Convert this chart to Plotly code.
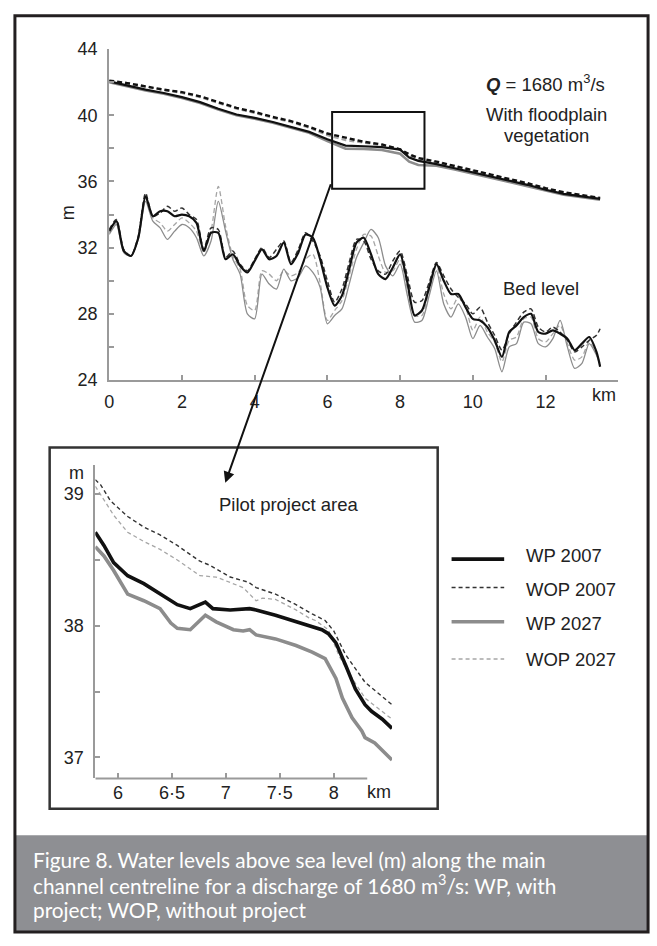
import plotly.graph_objects as go

W, H = 657, 946


def px(x):
    return x / W


def py(y):
    return 1 - y / H


# ---------------- main chart: water levels (m) ----------------
water_km = [0, 0.5, 1, 1.5, 2, 2.5, 3, 3.5, 4, 4.5, 5, 5.5, 6, 6.5, 7, 7.5, 8, 8.25, 8.5,
            9, 9.5, 10, 10.5, 11, 11.5, 12, 12.5, 13, 13.5]
water_wp2007 = [42.05, 41.8, 41.55, 41.35, 41.1, 40.8, 40.4, 40.05, 39.85, 39.6, 39.3, 39.0, 38.55,
                38.17, 38.13, 38.08, 37.93, 37.45, 37.25, 37.05, 36.8, 36.55, 36.3, 36.05, 35.8,
                35.5, 35.25, 35.1, 34.95]
water_wop2007 = [42.1, 41.95, 41.75, 41.55, 41.4, 41.15, 40.8, 40.45, 40.2, 39.9, 39.65, 39.3, 38.9,
                 38.63, 38.4, 38.24, 37.94, 37.65, 37.42, 37.2, 36.95, 36.7, 36.42, 36.15, 35.9,
                 35.6, 35.35, 35.18, 35.0]
water_wp2027 = [42.0, 41.75, 41.5, 41.3, 41.05, 40.75, 40.35, 40.0, 39.8, 39.55, 39.25, 38.95, 38.45,
                37.98, 37.97, 37.9, 37.68, 37.2, 37.0, 36.95, 36.72, 36.48, 36.22, 35.98, 35.72,
                35.45, 35.2, 35.05, 34.9]
water_wop2027 = [42.08, 41.9, 41.7, 41.5, 41.35, 41.1, 40.75, 40.4, 40.15, 39.85, 39.6, 39.25, 38.8,
                 38.5, 38.35, 38.2, 37.95, 37.55, 37.32, 37.15, 36.9, 36.65, 36.38, 36.1, 35.85,
                 35.55, 35.3, 35.15, 34.98]

# ---------------- main chart: bed levels (m) ----------------
bed_km = [0.0, 0.2, 0.4, 0.6, 0.8, 1.0, 1.2, 1.4, 1.6, 1.8, 2.0, 2.2, 2.4, 2.6, 2.8, 3.0, 3.2, 3.4,
          3.6, 3.8, 4.0, 4.2, 4.4, 4.6, 4.8, 5.0, 5.2, 5.4, 5.6, 5.8, 6.0, 6.2, 6.4, 6.6, 6.8, 7.0,
          7.2, 7.4, 7.6, 7.8, 8.0, 8.2, 8.4, 8.6, 8.8, 9.0, 9.2, 9.4, 9.6, 9.8, 10.0, 10.2, 10.4,
          10.6, 10.8, 11.0, 11.2, 11.4, 11.6, 11.8, 12.0, 12.2, 12.4, 12.6, 12.8, 13.0, 13.2, 13.4,
          13.5]
bed_wp2007 = [33.0, 33.6, 31.8, 31.5, 32.6, 35.1, 33.9, 34.2, 34.2, 33.9, 34.0, 33.9, 33.5, 31.8,
              32.9, 32.9, 31.3, 31.6, 30.9, 30.5, 31.2, 31.9, 31.3, 31.5, 32.3, 31.0, 31.7, 32.8,
              32.6, 31.3, 29.6, 28.5, 29.1, 30.7, 32.3, 32.6, 31.6, 30.4, 30.1, 30.8, 31.6, 29.9,
              27.9, 28.2, 29.6, 31.0, 30.0, 29.2, 29.2, 28.4, 27.7, 27.6, 27.2, 26.4, 25.4, 26.9,
              27.3, 27.8, 28.0, 26.9, 26.8, 27.0, 26.8, 26.5, 25.8, 26.2, 26.6, 25.7, 24.8]
bed_wop2007 = [33.1, 33.7, 31.9, 31.5, 32.7, 35.3, 33.9, 34.1, 34.5, 34.2, 34.4, 34.0, 33.7, 31.9,
               33.2, 33.1, 31.4, 31.8, 31.0, 30.6, 31.3, 32.0, 31.4, 31.9, 32.4, 31.1, 31.9, 32.9,
               32.4, 31.5, 30.0, 28.7, 29.5, 31.1, 32.5, 32.4, 31.3, 30.6, 30.4, 31.2, 31.8, 30.3,
               28.7, 28.8, 29.9, 31.1, 30.3, 29.5, 29.0, 28.6, 28.0, 28.4, 27.5, 26.7, 25.8, 26.8,
               27.5, 28.1, 28.3, 27.2, 26.9, 27.2, 26.9, 26.4, 25.7, 26.0, 26.4, 26.7, 27.1]
bed_wp2027 = [32.8, 33.4, 31.7, 31.5, 32.5, 34.8, 33.6, 33.2, 32.5, 33.0, 33.4, 33.2, 32.6, 31.5,
              32.4, 34.8, 33.0, 31.3, 30.4, 28.0, 27.7, 30.4, 29.8, 29.5, 30.7, 30.0, 30.2, 30.9,
              30.5, 29.6, 27.4, 27.9, 28.3, 29.8, 31.4, 32.3, 33.1, 32.6, 30.9, 30.3, 31.0, 29.1,
              27.5, 27.6, 29.1, 30.6, 28.6, 27.8, 28.6, 27.8, 26.5, 27.3, 26.6, 25.9, 24.5, 26.0,
              26.2, 27.5, 27.4, 26.2, 26.0, 26.5, 27.6, 26.0, 24.7, 25.0, 26.2, 25.5, 24.9]
bed_wop2027 = [32.9, 33.5, 31.8, 31.5, 32.6, 35.0, 33.8, 33.5, 33.0, 33.4, 33.8, 33.5, 33.0, 31.7,
               33.0, 35.7, 33.3, 31.5, 30.7, 28.5, 28.2, 30.6, 30.4, 30.0, 30.6, 30.3, 30.5, 31.3,
               31.6, 29.9, 27.6, 28.2, 28.8, 30.3, 31.9, 32.8, 32.7, 31.5, 30.5, 30.6, 31.3, 29.5,
               27.9, 27.9, 29.4, 30.9, 29.2, 28.3, 29.0, 28.4, 27.0, 27.8, 26.9, 26.3, 25.1, 26.4,
               26.6, 27.7, 27.8, 26.5, 26.3, 26.8, 27.3, 26.2, 25.2, 25.4, 26.3, 25.6, 25.0]

main_xtick_vals = [0, 2, 4, 6, 8, 10, 12]
main_xtick_text = ["0", "2", "4", "6", "8", "10", "12"]
main_ytick_vals = [24, 28, 32, 36, 40, 44]
main_ytick_text = ["24", "28", "32", "36", "40", "44"]

# zoom window (pilot project area) on the main chart
zoom_km = [6.13, 8.67]
zoom_m = [35.56, 40.2]

# ---------------- inset: pilot project area ----------------
in_wp2007_km = [5.79, 5.87, 5.96, 6.09, 6.24, 6.39, 6.55, 6.67, 6.76, 6.81, 6.88, 7.04, 7.22, 7.28,
                7.46, 7.65, 7.8, 7.89, 7.95, 8.02, 8.11, 8.2, 8.29, 8.35, 8.45, 8.54]
in_wp2007 = [38.71, 38.61, 38.48, 38.38, 38.32, 38.24, 38.16, 38.13, 38.16, 38.18, 38.13, 38.12,
             38.13, 38.12, 38.08, 38.03, 37.99, 37.97, 37.94, 37.87, 37.7, 37.52, 37.4, 37.35,
             37.29, 37.22]
in_wop2007_km = [5.79, 5.84, 5.93, 6.09, 6.24, 6.39, 6.55, 6.76, 6.85, 7.04, 7.21, 7.28, 7.46, 7.65,
                 7.8, 7.92, 8.0, 8.11, 8.29, 8.54]
in_wop2007 = [39.11, 39.07, 38.95, 38.83, 38.75, 38.69, 38.61, 38.49, 38.46, 38.37, 38.33, 38.29,
              38.24, 38.16, 38.09, 38.04, 37.96, 37.78, 37.57, 37.4]
in_wp2027_km = [5.79, 5.87, 5.96, 6.09, 6.24, 6.39, 6.49, 6.55, 6.67, 6.73, 6.81, 6.91, 7.07, 7.16,
                7.22, 7.28, 7.46, 7.65, 7.8, 7.92, 8.02, 8.08, 8.17, 8.26, 8.29, 8.38, 8.54]
in_wp2027 = [38.6, 38.53, 38.42, 38.24, 38.19, 38.13, 38.02, 37.98, 37.97, 38.02, 38.08, 38.03,
             37.97, 37.96, 37.97, 37.93, 37.9, 37.85, 37.8, 37.75, 37.6, 37.45, 37.3, 37.2, 37.15,
             37.11, 36.98]
in_wop2027_km = [5.79, 5.87, 5.96, 6.09, 6.24, 6.39, 6.55, 6.76, 6.91, 7.16, 7.28, 7.34, 7.46, 7.65,
                 7.77, 7.83, 7.95, 8.05, 8.17, 8.29, 8.54]
in_wop2027 = [39.06, 38.96, 38.84, 38.71, 38.64, 38.58, 38.5, 38.38, 38.37, 38.29, 38.19, 38.21,
              38.2, 38.12, 38.06, 38.04, 37.97, 37.77, 37.6, 37.45, 37.29]

inset_xtick_vals = [6, 6.5, 7, 7.5, 8]
inset_xtick_text = ["6", "6·5", "7", "7·5", "8"]
inset_ytick_vals = [37, 38, 39]
inset_ytick_text = ["37", "38", "39"]

series_names = ["WP 2007", "WOP 2007", "WP 2027", "WOP 2027"]

caption_lines = [
    "Figure 8. Water levels above sea level (m) along the main",
    "channel centreline for a discharge of 1680 m<sup>3</sup>/s: WP, with",
    "project; WOP, without project",
]

# ---------------- styles ----------------
FONT = "Liberation Sans, Arial, sans-serif"
FS = 18
TXT = "#222222"
AXC = "#9a9a9a"
BLACK = "#111111"
GREY = "#8c8c8c"
LGREY = "#a6a6a6"

inset_styles = [
    dict(color=BLACK, width=3.6),
    dict(color="#333333", width=1.4, dash="4px,3px"),
    dict(color=GREY, width=3.6),
    dict(color=LGREY, width=1.3, dash="4px,3px"),
]

fig = go.Figure()

# main water levels (grey first, black on top)
fig.add_trace(go.Scatter(x=water_km, y=water_wop2027, mode="lines", name="WOP 2027",
                         line=dict(color=LGREY, width=2.2, dash="5px,3px"), showlegend=False))
fig.add_trace(go.Scatter(x=water_km, y=water_wp2027, mode="lines", name="WP 2027",
                         line=dict(color=GREY, width=2.6), showlegend=False))
fig.add_trace(go.Scatter(x=water_km, y=water_wp2007, mode="lines", name="WP 2007",
                         line=dict(color=BLACK, width=2.2), showlegend=False))
fig.add_trace(go.Scatter(x=water_km, y=water_wop2007, mode="lines", name="WOP 2007",
                         line=dict(color=BLACK, width=2.4, dash="5px,3px"), showlegend=False))

# main bed levels (smoothed curves)
bed_sets = [
    (bed_wop2027, dict(color=LGREY, width=1.3, dash="5px,3px"), "WOP 2027"),
    (bed_wp2027, dict(color=GREY, width=1.3), "WP 2027"),
    (bed_wop2007, dict(color="#333333", width=1.5, dash="5px,3px"), "WOP 2007"),
    (bed_wp2007, dict(color=BLACK, width=2.2), "WP 2007"),
]
for ys, ln, nm in bed_sets:
    ln = dict(ln, shape="spline", smoothing=0.7)
    fig.add_trace(go.Scatter(x=bed_km, y=ys, mode="lines", name=nm, line=ln, showlegend=False))

# inset
inset_data = [(in_wp2007_km, in_wp2007), (in_wop2007_km, in_wop2007),
              (in_wp2027_km, in_wp2027), (in_wop2027_km, in_wop2027)]
for idx in [3, 1, 2, 0]:
    xs, ys = inset_data[idx]
    fig.add_trace(go.Scatter(x=xs, y=ys, mode="lines", name=series_names[idx],
                             line=inset_styles[idx], xaxis="x2", yaxis="y2", showlegend=False))

tickfont = dict(family=FONT, size=FS, color=TXT)
common_axis = dict(showgrid=False, zeroline=False, ticks="inside", ticklen=5, tickwidth=1.5,
                   tickcolor=AXC, tickfont=tickfont, linecolor=AXC, linewidth=2)
minor_main = dict(ticks="inside", ticklen=5, tickwidth=1.5, tickcolor=AXC, dtick=2, showgrid=False)
minor_inset = dict(ticks="inside", ticklen=5, tickwidth=1.5, tickcolor=AXC, dtick=0.5,
                   showgrid=False)

fig.update_layout(
    width=W, height=H,
    margin=dict(l=0, r=0, t=0, b=0),
    paper_bgcolor="white", plot_bgcolor="rgba(0,0,0,0)",
    showlegend=False,
    xaxis=dict(domain=[px(105), px(618)], range=[0, 14], anchor="y",
               tickvals=main_xtick_vals, ticktext=main_xtick_text, showline=True,
               minor=dict(minor_main, tick0=0), ticklabelstandoff=4, **common_axis),
    yaxis=dict(domain=[py(378), py(40)], range=[24, 44], anchor="x",
               tickvals=main_ytick_vals, ticktext=main_ytick_text, showline=True,
               minor=dict(minor_main, tick0=24), ticklabelstandoff=6, **common_axis),
    xaxis2=dict(domain=[px(91), px(390)], range=[5.79, 8.54], anchor="y2",
                tickvals=inset_xtick_vals, ticktext=inset_xtick_text, showline=False,
                ticklabelstandoff=2, **common_axis),
    yaxis2=dict(domain=[py(785), py(465)], range=[36.84, 39.22], anchor="x2",
                tickvals=inset_ytick_vals, ticktext=inset_ytick_text, showline=True,
                minor=dict(minor_inset, tick0=37), ticklabelstandoff=6, **common_axis),
)

shapes = []
# caption band
shapes.append(dict(type="rect", xref="paper", yref="paper", x0=px(10), x1=px(648), y0=py(942),
                   y1=py(843), line=dict(width=0), fillcolor="#8e8f93", layer="below"))
# outer frame
shapes.append(dict(type="rect", xref="paper", yref="paper", x0=px(10), x1=px(648), y0=py(942),
                   y1=py(6), line=dict(color="#231f20", width=3), fillcolor="rgba(0,0,0,0)",
                   layer="above"))
# inset frame
shapes.append(dict(type="rect", xref="paper", yref="paper", x0=px(45), x1=px(436), y0=py(816),
                   y1=py(447), line=dict(color="#333333", width=2.5), layer="above"))
# inset x axis line
shapes.append(dict(type="line", xref="x2", yref="y2 domain", x0=5.79, x1=8.31, y0=0, y1=0,
                   line=dict(color=AXC, width=2)))
# zoom window on main chart
shapes.append(dict(type="rect", xref="x", yref="y", x0=zoom_km[0], x1=zoom_km[1], y0=zoom_m[0],
                   y1=zoom_m[1], line=dict(color=BLACK, width=2), layer="above"))

# legend (drawn)
leg_y = [561, 590, 625, 663]
leg_txt_y = [557, 592, 627, 664]
for i, name in enumerate(series_names):
    st = inset_styles[i]
    shapes.append(dict(type="line", xref="paper", yref="paper", x0=px(450), x1=px(503),
                       y0=py(leg_y[i]), y1=py(leg_y[i]),
                       line=dict(color=st["color"], width=st["width"], dash=st.get("dash", "solid"))))

fig.update_layout(shapes=shapes)

ann = []


def text(x, y, s, size=FS, xanchor="center", yanchor="middle", color=TXT, family=FONT, **kw):
    ann.append(dict(x=px(x), y=py(y), xref="paper", yref="paper", text=s, showarrow=False,
                    xanchor=xanchor, yanchor=yanchor, font=dict(family=family, size=size,
                                                                color=color), **kw))


text(63, 207, "m", textangle=-90)
text(604, 393, "km")
text(545, 75, "<b><i>Q</i></b> = 1680 m<sup>3</sup>/s", size=18.5)
text(546, 107, "With floodplain", size=18.5)
text(546, 128, "vegetation", size=18.5)
text(540, 285, "Bed level", size=18.5)
text(72, 473, "m")
text(286, 505, "Pilot project area", size=18.5)
text(377, 799, "km")
for i, name in enumerate(series_names):
    text(523, leg_txt_y[i], name, xanchor="left", size=18.5)

cap_y = [868, 893.5, 919]
for s, yy in zip(caption_lines, cap_y):
    text(27, yy, s, size=20.8, xanchor="left", color="white",
         family="Lato, Open Sans, sans-serif", borderpad=0)

# arrow from zoom window to inset
ann.append(dict(x=px(222), y=py(483), xref="paper", yref="paper", ax=106, ay=-300, text="",
                showarrow=True, arrowhead=2, arrowsize=1.1, arrowwidth=2, arrowcolor=BLACK,
                standoff=0, startstandoff=0))

fig.update_layout(annotations=ann)

# remove the default page margin so the 657x946 figure fills the window exactly
fig.write_html("out.html",
               config={"displayModeBar": False},
               post_script="document.body.style.margin='0';"
                           "document.documentElement.style.overflow='hidden';")
